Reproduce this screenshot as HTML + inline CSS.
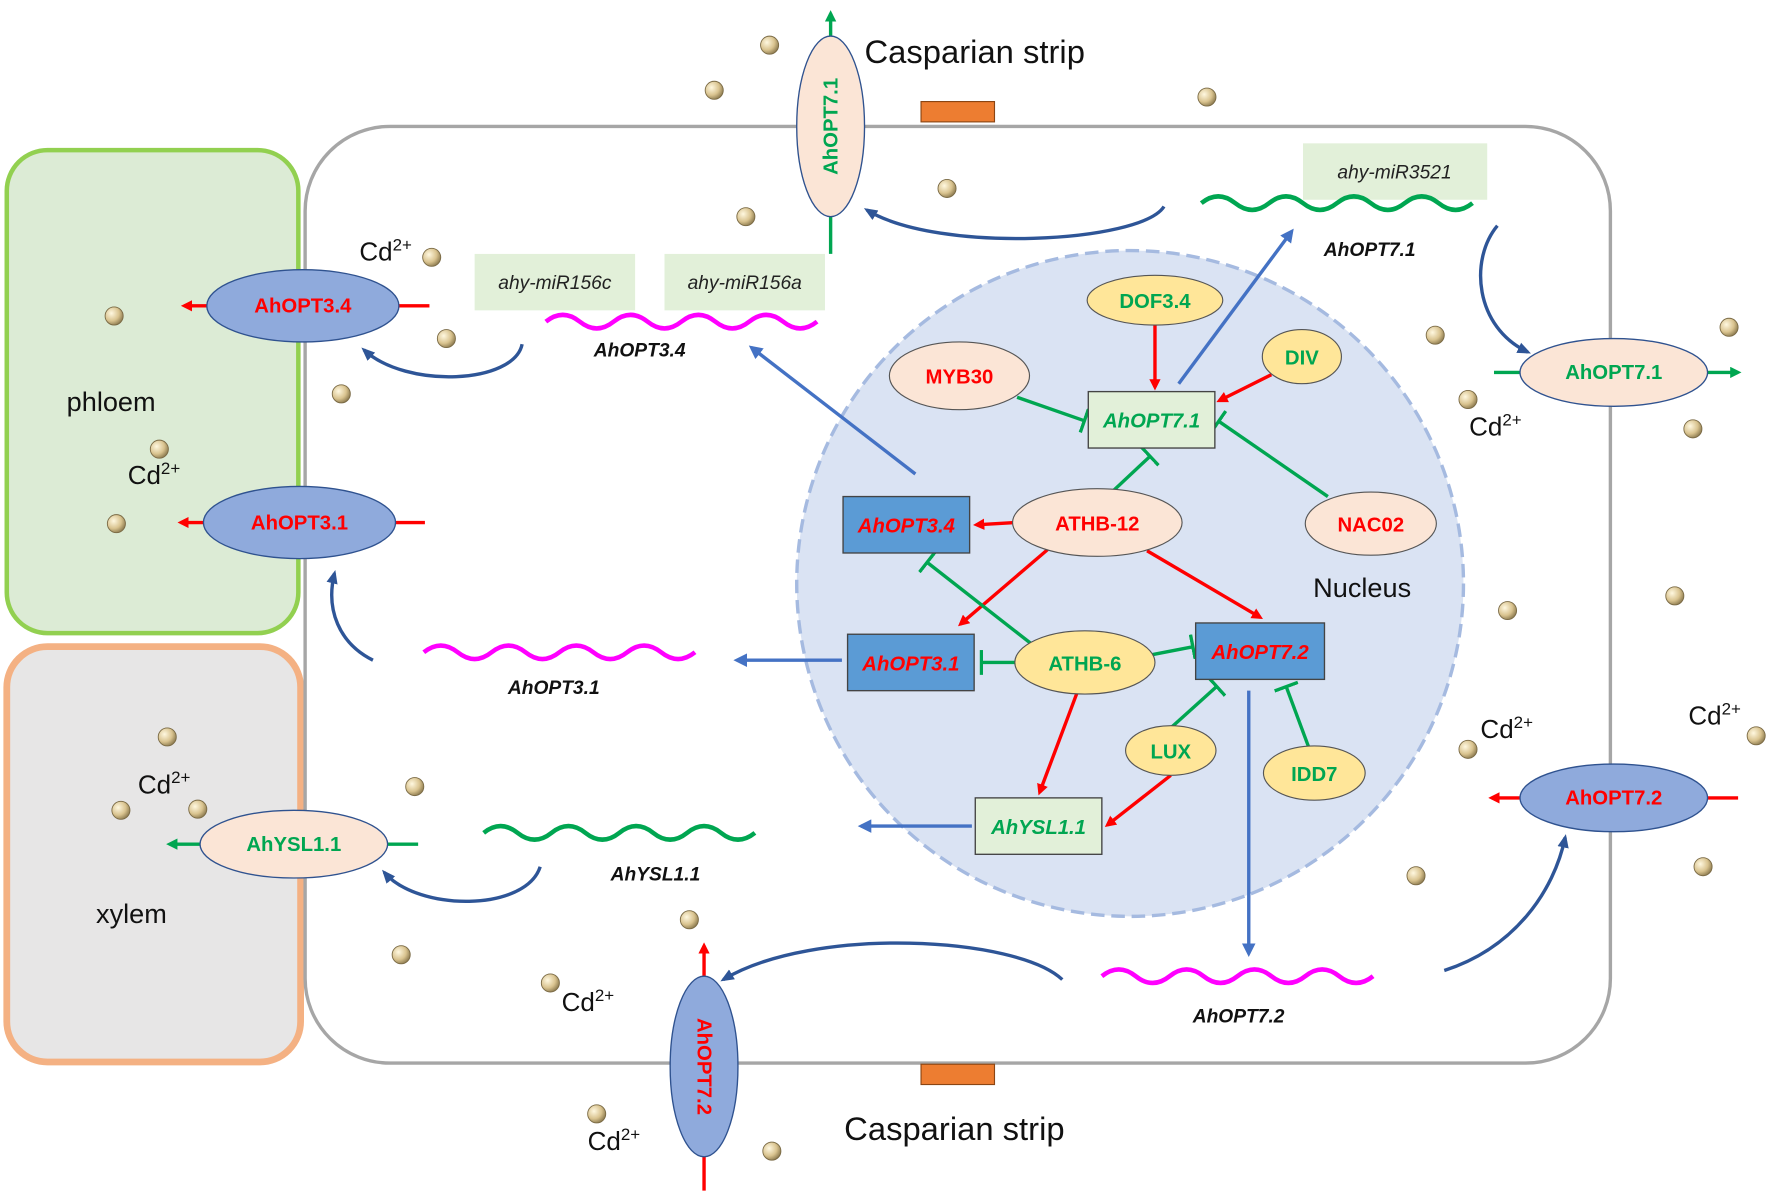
<!DOCTYPE html>
<html><head><meta charset="utf-8"><style>
html,body{margin:0;padding:0;background:#fff;}
svg{display:block;font-family:"Liberation Sans",Arial,sans-serif;}
</style></head><body>
<svg width="1772" height="1194" viewBox="0 0 1568 1058" preserveAspectRatio="none" xmlns="http://www.w3.org/2000/svg">
<defs>
<marker id="ar" markerWidth="10" markerHeight="10" refX="7" refY="5" orient="auto" markerUnits="userSpaceOnUse" viewBox="0 0 10 10"><path d="M0,0 L10,5 L0,10 z" fill="#ff0000"/></marker>
<marker id="ag" markerWidth="10" markerHeight="10" refX="7" refY="5" orient="auto" markerUnits="userSpaceOnUse" viewBox="0 0 10 10"><path d="M0,0 L10,5 L0,10 z" fill="#00a651"/></marker>
<marker id="ab" markerWidth="12" markerHeight="12" refX="9" refY="6" orient="auto" markerUnits="userSpaceOnUse" viewBox="0 0 12 12"><path d="M0,0 L12,6 L0,12 z" fill="#4472c4"/></marker>
<marker id="ad" markerWidth="12" markerHeight="12" refX="9" refY="6" orient="auto" markerUnits="userSpaceOnUse" viewBox="0 0 12 12"><path d="M0,1 L12,6 L0,11 z" fill="#2e5597"/></marker>
<marker id="tg" markerWidth="4" markerHeight="22" refX="2" refY="11" orient="auto" markerUnits="userSpaceOnUse" viewBox="0 0 4 22"><rect x="0" y="0" width="3" height="22" fill="#00a651"/></marker>
<radialGradient id="dot" cx="0.35" cy="0.35" r="0.7"><stop offset="0" stop-color="#fff8e0"/><stop offset="0.6" stop-color="#d9c38f"/><stop offset="1" stop-color="#8c7a4f"/></radialGradient>
</defs>
<rect x="6" y="133" width="258" height="428" rx="36" fill="#dcebd5" stroke="#92d050" stroke-width="4"/>
<rect x="6" y="573" width="260" height="368" rx="36" fill="#e7e6e6" stroke="#f4b183" stroke-width="6"/>
<rect x="270" y="112" width="1155" height="830" rx="75" fill="none" stroke="#a6a6a6" stroke-width="3"/>
<rect x="815" y="90" width="65" height="18" fill="#ed7d31" stroke="#8b4513" stroke-width="1"/>
<rect x="815" y="943" width="65" height="18" fill="#ed7d31" stroke="#8b4513" stroke-width="1"/>
<circle cx="1000" cy="517" r="295" fill="#dae3f3" stroke="#a5bae0" stroke-width="3" stroke-dasharray="12,6"/>
<g font-size="29" fill="#111">
<text x="765" y="56">Casparian strip</text>
<text x="747" y="1010">Casparian strip</text>
</g>
<g font-size="24" fill="#111">
<text x="59" y="364">phloem</text>
<text x="85" y="818">xylem</text>
<text x="1162" y="529">Nucleus</text>
</g>
<g fill="url(#dot)" stroke="#7a6a45" stroke-width="0.8">
<circle cx="681" cy="40" r="8"/><circle cx="632" cy="80" r="8"/><circle cx="1068" cy="86" r="8"/><circle cx="838" cy="167" r="8"/><circle cx="660" cy="192" r="8"/><circle cx="382" cy="228" r="8"/><circle cx="101" cy="280" r="8"/><circle cx="395" cy="300" r="8"/><circle cx="302" cy="349" r="8"/><circle cx="141" cy="398" r="8"/><circle cx="103" cy="464" r="8"/><circle cx="1270" cy="297" r="8"/><circle cx="1299" cy="354" r="8"/><circle cx="1530" cy="290" r="8"/><circle cx="1498" cy="380" r="8"/><circle cx="1482" cy="528" r="8"/><circle cx="1334" cy="541" r="8"/><circle cx="1299" cy="664" r="8"/><circle cx="1554" cy="652" r="8"/><circle cx="1507" cy="768" r="8"/><circle cx="1253" cy="776" r="8"/><circle cx="148" cy="653" r="8"/><circle cx="107" cy="718" r="8"/><circle cx="175" cy="717" r="8"/><circle cx="367" cy="697" r="8"/><circle cx="610" cy="815" r="8"/><circle cx="355" cy="846" r="8"/><circle cx="487" cy="871" r="8"/><circle cx="528" cy="987" r="8"/><circle cx="683" cy="1020" r="8"/>
</g>
<g font-size="23" fill="#111">
<text x="318" y="231">Cd<tspan font-size="15" dy="-9">2+</tspan></text>
<text x="113" y="429">Cd<tspan font-size="15" dy="-9">2+</tspan></text>
<text x="122" y="703">Cd<tspan font-size="15" dy="-9">2+</tspan></text>
<text x="497" y="896">Cd<tspan font-size="15" dy="-9">2+</tspan></text>
<text x="520" y="1019">Cd<tspan font-size="15" dy="-9">2+</tspan></text>
<text x="1300" y="386">Cd<tspan font-size="15" dy="-9">2+</tspan></text>
<text x="1310" y="654">Cd<tspan font-size="15" dy="-9">2+</tspan></text>
<text x="1494" y="642">Cd<tspan font-size="15" dy="-9">2+</tspan></text>
</g>
<g stroke-width="3">
<line x1="735" y1="225" x2="735" y2="12" stroke="#00a651" marker-end="url(#ag)"/>
<line x1="380" y1="271" x2="163" y2="271" stroke="#ff0000" marker-end="url(#ar)"/>
<line x1="376" y1="463" x2="160" y2="463" stroke="#ff0000" marker-end="url(#ar)"/>
<line x1="370" y1="748" x2="150" y2="748" stroke="#00a651" marker-end="url(#ag)"/>
<line x1="1322" y1="330" x2="1538" y2="330" stroke="#00a651" marker-end="url(#ag)"/>
<line x1="1538" y1="707" x2="1320" y2="707" stroke="#ff0000" marker-end="url(#ar)"/>
<line x1="623" y1="1055" x2="623" y2="838" stroke="#ff0000" marker-end="url(#ar)"/>
</g>
<g stroke="#2f528f" stroke-width="1.2" font-weight="bold" font-size="18" text-anchor="middle">
<ellipse cx="735" cy="112" rx="30" ry="80" fill="#fbe5d6"/>
<text x="0" y="0" fill="#00a651" stroke="none" transform="translate(741,112) rotate(-90)">AhOPT7.1</text>
<ellipse cx="268" cy="271" rx="85" ry="32" fill="#8faadc"/>
<text x="268" y="277" fill="#ff0000" stroke="none">AhOPT3.4</text>
<ellipse cx="265" cy="463" rx="85" ry="32" fill="#8faadc"/>
<text x="265" y="469" fill="#ff0000" stroke="none">AhOPT3.1</text>
<ellipse cx="260" cy="748" rx="83" ry="30" fill="#fbe5d6"/>
<text x="260" y="754" fill="#00a651" stroke="none">AhYSL1.1</text>
<ellipse cx="1428" cy="330" rx="83" ry="30" fill="#fbe5d6"/>
<text x="1428" y="336" fill="#00a651" stroke="none">AhOPT7.1</text>
<ellipse cx="1428" cy="707" rx="83" ry="30" fill="#8faadc"/>
<text x="1428" y="713" fill="#ff0000" stroke="none">AhOPT7.2</text>
<ellipse cx="623" cy="945" rx="30" ry="80" fill="#8faadc"/>
<text x="0" y="0" fill="#ff0000" stroke="none" transform="translate(617,945) rotate(90)">AhOPT7.2</text>
</g>
<g font-style="italic" font-size="17" fill="#222" text-anchor="middle">
<rect x="420" y="225" width="142" height="50" fill="#e2f0d9"/><text x="491" y="256">ahy-miR156c</text>
<rect x="588" y="225" width="142" height="50" fill="#e2f0d9"/><text x="659" y="256">ahy-miR156a</text>
<rect x="1153" y="127" width="163" height="50" fill="#e2f0d9"/><text x="1234" y="158">ahy-miR3521</text>
</g>
<g fill="none" stroke-width="4">
<path d="M483,285 q15,-12 30,0 t30,0 t30,0 t30,0 t30,0 t30,0 t30,0 t30,0" stroke="#ff00ff"/>
<path d="M375,578 q15,-12 30,0 t30,0 t30,0 t30,0 t30,0 t30,0 t30,0 t30,0" stroke="#ff00ff"/>
<path d="M975,865 q15,-12 30,0 t30,0 t30,0 t30,0 t30,0 t30,0 t30,0 t30,0" stroke="#ff00ff"/>
<path d="M1063,180 q15,-12 30,0 t30,0 t30,0 t30,0 t30,0 t30,0 t30,0 t30,0" stroke="#00a651"/>
<path d="M428,738 q15,-12 30,0 t30,0 t30,0 t30,0 t30,0 t30,0 t30,0 t30,0" stroke="#00a651"/>
</g>
<g font-style="italic" font-weight="bold" font-size="17" fill="#111" text-anchor="middle">
<text x="566" y="316">AhOPT3.4</text>
<text x="490" y="615">AhOPT3.1</text>
<text x="1096" y="906">AhOPT7.2</text>
<text x="1212" y="227">AhOPT7.1</text>
<text x="580" y="780">AhYSL1.1</text>
</g>
<g fill="none" stroke="#2e5597" stroke-width="3">
<path d="M462,305 C455,340 360,345 322,310" marker-end="url(#ad)"/>
<path d="M330,585 C300,570 288,540 296,508" marker-end="url(#ad)"/>
<path d="M478,768 C465,808 370,808 340,773" marker-end="url(#ad)"/>
<path d="M1030,183 C1010,215 830,225 767,186" marker-end="url(#ad)"/>
<path d="M1325,200 C1300,230 1305,290 1352,312" marker-end="url(#ad)"/>
<path d="M940,868 C900,830 720,820 640,868" marker-end="url(#ad)"/>
<path d="M1278,860 C1340,840 1375,790 1385,742" marker-end="url(#ad)"/>
</g>
<g stroke="#4472c4" stroke-width="3">
<line x1="810" y1="420" x2="665" y2="308" marker-end="url(#ab)"/>
<line x1="1043" y1="340" x2="1143" y2="205" marker-end="url(#ab)"/>
<line x1="745" y1="585" x2="652" y2="585" marker-end="url(#ab)"/>
<line x1="860" y1="732" x2="762" y2="732" marker-end="url(#ab)"/>
<line x1="1105" y1="612" x2="1105" y2="845" marker-end="url(#ab)"/>
</g>
<g stroke-width="3">
<line x1="1022" y1="288" x2="1022" y2="343" stroke="#ff0000" marker-end="url(#ar)"/>
<line x1="1125" y1="332" x2="1079" y2="355" stroke="#ff0000" marker-end="url(#ar)"/>
<line x1="900" y1="352" x2="960" y2="373" stroke="#00a651" marker-end="url(#tg)"/>
<line x1="1175" y1="440" x2="1078" y2="373" stroke="#00a651" marker-end="url(#tg)"/>
<line x1="985" y1="435" x2="1018" y2="404" stroke="#00a651" marker-end="url(#tg)"/>
<line x1="898" y1="463" x2="864" y2="465" stroke="#ff0000" marker-end="url(#ar)"/>
<line x1="927" y1="487" x2="850" y2="553" stroke="#ff0000" marker-end="url(#ar)"/>
<line x1="1015" y1="488" x2="1115" y2="547" stroke="#ff0000" marker-end="url(#ar)"/>
<line x1="912" y1="570" x2="820" y2="498" stroke="#00a651" marker-end="url(#tg)"/>
<line x1="898" y1="587" x2="868" y2="587" stroke="#00a651" marker-end="url(#tg)"/>
<line x1="1020" y1="580" x2="1056" y2="573" stroke="#00a651" marker-end="url(#tg)"/>
<line x1="953" y1="614" x2="920" y2="702" stroke="#ff0000" marker-end="url(#ar)"/>
<line x1="1036" y1="687" x2="980" y2="731" stroke="#ff0000" marker-end="url(#ar)"/>
<line x1="1036" y1="645" x2="1077" y2="608" stroke="#00a651" marker-end="url(#tg)"/>
<line x1="1158" y1="662" x2="1138" y2="608" stroke="#00a651" marker-end="url(#tg)"/>
</g>
<g stroke="#555" stroke-width="1" font-weight="bold" font-size="18" text-anchor="middle">
<ellipse cx="1022" cy="266" rx="60" ry="22" fill="#ffe699"/><text x="1022" y="273" fill="#00a651" stroke="none">DOF3.4</text>
<ellipse cx="1152" cy="316" rx="35" ry="24" fill="#ffe699"/><text x="1152" y="323" fill="#00a651" stroke="none">DIV</text>
<ellipse cx="849" cy="333" rx="62" ry="30" fill="#fbe5d6"/><text x="849" y="340" fill="#ff0000" stroke="none">MYB30</text>
<ellipse cx="971" cy="463" rx="75" ry="30" fill="#fbe5d6"/><text x="971" y="470" fill="#ff0000" stroke="none">ATHB-12</text>
<ellipse cx="1213" cy="464" rx="58" ry="28" fill="#fbe5d6"/><text x="1213" y="471" fill="#ff0000" stroke="none">NAC02</text>
<ellipse cx="960" cy="587" rx="62" ry="28" fill="#ffe699"/><text x="960" y="594" fill="#00a651" stroke="none">ATHB-6</text>
<ellipse cx="1036" cy="665" rx="40" ry="22" fill="#ffe699"/><text x="1036" y="672" fill="#00a651" stroke="none">LUX</text>
<ellipse cx="1163" cy="685" rx="45" ry="24" fill="#ffe699"/><text x="1163" y="692" fill="#00a651" stroke="none">IDD7</text>
</g>
<g stroke="#444" stroke-width="1.2" font-weight="bold" font-style="italic" font-size="18" text-anchor="middle">
<rect x="963" y="347" width="112" height="50" fill="#e2f0d9"/><text x="1019" y="379" fill="#00a651" stroke="none">AhOPT7.1</text>
<rect x="746" y="440" width="112" height="50" fill="#5b9bd5"/><text x="802" y="472" fill="#ff0000" stroke="none">AhOPT3.4</text>
<rect x="750" y="562" width="112" height="50" fill="#5b9bd5"/><text x="806" y="594" fill="#ff0000" stroke="none">AhOPT3.1</text>
<rect x="1058" y="552" width="114" height="50" fill="#5b9bd5"/><text x="1115" y="584" fill="#ff0000" stroke="none">AhOPT7.2</text>
<rect x="863" y="707" width="112" height="50" fill="#e2f0d9"/><text x="919" y="739" fill="#00a651" stroke="none">AhYSL1.1</text>
</g>
</svg>
</body></html>
